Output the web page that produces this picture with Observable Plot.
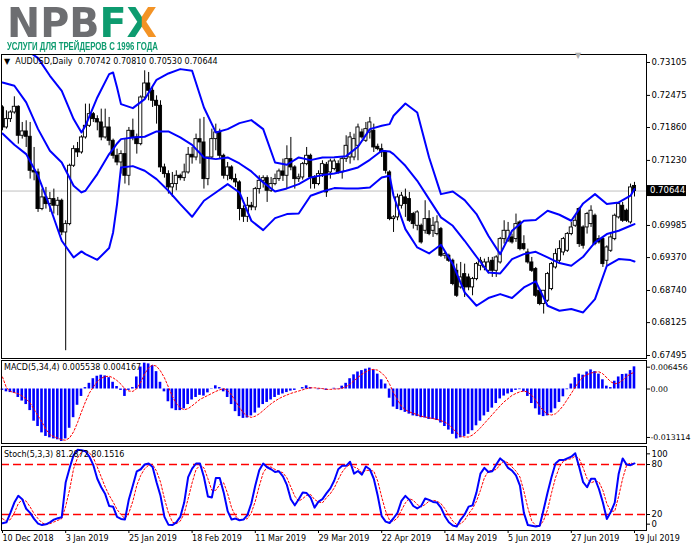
<!DOCTYPE html>
<html><head><meta charset="utf-8">
<script src="https://cdn.jsdelivr.net/npm/d3@7"></script>
<script src="https://cdn.jsdelivr.net/npm/@observablehq/plot@0.6"></script>
<style>
body{margin:0;background:#fff;}
#wrap{position:relative;width:691px;height:549px;overflow:hidden;background:#fff;font-family:"DejaVu Sans",sans-serif;color:#000;}
.pnl{position:absolute;left:0;}
.lbl{position:absolute;font-size:8px;white-space:pre;line-height:10px;}
#brand{position:absolute;left:7px;top:8px;font-family:"DejaVu Sans";font-weight:bold;font-size:41px;line-height:30px;height:30px;white-space:pre;transform-origin:0 0;}
#brand .g{color:#6d6e71;} #brand .f{color:#0d9b6f;}
#brand .x{background:linear-gradient(to right,#0d9b6f 50%,#f39325 50%);-webkit-background-clip:text;background-clip:text;color:transparent;}
#slogan{position:absolute;left:7px;top:42px;font-family:"Liberation Sans Narrow","Liberation Sans",sans-serif;font-weight:bold;font-size:11px;line-height:8px;height:8px;color:#0d9b6f;white-space:pre;transform-origin:0 0;}
</style></head><body>
<div id="wrap">
<div id="brand"><span class="g">NPB</span><span class="f">F</span><span class="x">X</span></div>
<div id="slogan">УСЛУГИ ДЛЯ ТРЕЙДЕРОВ С 1996 ГОДА</div>
</div>
<script>
// ---------- data ----------
const xTickBars = [0,16,32,48,64,80,96,112,128,144,160];
const xTickLabels = ["10 Dec 2018","3 Jan 2019","25 Jan 2019","18 Feb 2019","11 Mar 2019","29 Mar 2019","22 Apr 2019","14 May 2019","5 Jun 2019","27 Jun 2019","19 Jul 2019"];
const priceTicks = [0.73105,0.72475,0.71860,0.71230,0.69985,0.69370,0.68740,0.68125,0.67495];
const macdTicks = [0.006456,0,-0.013114];
const macdTickLabels = ["0.006456","0.00","-0.013114"];
const stochTicks = [100,80,20,0];
const stochLevels = [80,20];

const open = [0.72244,0.71861,0.72021,0.72148,0.72257,0.71702,0.71785,0.71683,0.71032,0.71000,
0.70299,0.70522,0.70394,0.70490,0.70362,0.70458,0.69851,0.70011,0.71128,0.71446,
0.71383,0.71670,0.71893,0.72116,0.72021,0.71957,0.71670,0.71861,0.71606,0.71319,
0.71191,0.71351,0.70936,0.71797,0.71670,0.71542,0.72435,0.72703,0.72563,0.72372,
0.72276,0.71096,0.70968,0.70713,0.70777,0.70936,0.70891,0.71000,0.71338,0.71287,
0.71638,0.71574,0.70872,0.71287,0.71638,0.71766,0.71319,0.70936,0.71096,0.70872,
0.70809,0.70299,0.70151,0.70362,0.70331,0.70681,0.70840,0.70891,0.70649,0.70777,
0.70872,0.71019,0.70936,0.71255,0.71096,0.70872,0.70904,0.71159,0.71319,0.70904,
0.70777,0.70968,0.71147,0.71000,0.71064,0.71159,0.71000,0.71255,0.71287,0.71287,
0.71510,0.71766,0.71606,0.71766,0.71797,0.71491,0.71446,0.71383,0.71000,0.70107,
0.70139,0.70362,0.70522,0.70490,0.70203,0.69979,0.69979,0.69883,0.70107,0.69883,
0.69820,0.69915,0.69405,0.69405,0.69309,0.69117,0.68799,0.69054,0.68990,0.68799,
0.68958,0.69213,0.69181,0.69117,0.69309,0.69117,0.69277,0.69724,0.69692,0.69756,
0.69724,0.70043,0.69628,0.69468,0.69277,0.69150,0.68735,0.68480,0.68544,0.68767,
0.69181,0.69309,0.69468,0.69500,0.69820,0.69979,0.70299,0.69947,0.69947,0.70011,
0.70171,0.69724,0.69724,0.69309,0.69500,0.69724,0.70139,0.70362,0.70267,0.70043,
0.70742];
const high = [0.72276,0.72180,0.72180,0.72448,0.72276,0.71957,0.71989,0.71957,0.71478,0.71064,
0.70681,0.70713,0.70617,0.70681,0.70522,0.70490,0.70075,0.71159,0.71510,0.71574,
0.71702,0.72308,0.72308,0.72148,0.72085,0.72212,0.72212,0.72053,0.71638,0.71446,
0.71415,0.71638,0.71861,0.72021,0.71734,0.72467,0.72946,0.72914,0.72627,0.72467,
0.72372,0.71159,0.71032,0.71000,0.71032,0.70968,0.71159,0.71478,0.71478,0.71734,
0.72021,0.72053,0.71287,0.71829,0.71925,0.71829,0.71351,0.71191,0.71128,0.70968,
0.70840,0.70362,0.70522,0.70426,0.70713,0.70936,0.70936,0.70936,0.70904,0.70968,
0.71064,0.71255,0.71510,0.71670,0.71128,0.70968,0.71191,0.71478,0.71351,0.70936,
0.71032,0.71223,0.71191,0.71255,0.71255,0.71223,0.71287,0.71702,0.71766,0.71734,
0.71925,0.71829,0.71957,0.72053,0.71925,0.71542,0.71542,0.71415,0.71032,0.70171,
0.70585,0.70617,0.70681,0.70617,0.70235,0.70267,0.70011,0.70458,0.70267,0.70139,
0.70171,0.69947,0.69468,0.69436,0.69341,0.69245,0.69277,0.69245,0.69054,0.68990,
0.69277,0.69373,0.69341,0.69373,0.69373,0.69405,0.69756,0.70075,0.70043,0.69820,
0.70203,0.70075,0.69788,0.69532,0.69373,0.69181,0.68767,0.68735,0.69086,0.69277,
0.69532,0.69692,0.69756,0.69851,0.70043,0.70171,0.70331,0.69979,0.70235,0.70362,
0.70203,0.69788,0.69756,0.69596,0.69851,0.70203,0.70426,0.70426,0.70299,0.70777,
0.70810];
const low = [0.71797,0.71829,0.71957,0.72116,0.71542,0.71638,0.71478,0.70872,0.70840,0.70235,
0.70267,0.70299,0.70235,0.70203,0.70171,0.69788,0.67587,0.69979,0.71096,0.71287,
0.71351,0.71638,0.71861,0.71957,0.71797,0.71606,0.71638,0.71510,0.71255,0.71128,
0.70968,0.70777,0.70745,0.71606,0.71351,0.71510,0.72403,0.72372,0.72244,0.71925,
0.71000,0.70891,0.70585,0.70522,0.70649,0.70840,0.70828,0.70968,0.71159,0.71223,
0.71159,0.70681,0.70745,0.71255,0.71415,0.71255,0.70872,0.70840,0.70840,0.70713,
0.70075,0.70043,0.70043,0.70267,0.70267,0.70585,0.70700,0.70426,0.70617,0.70745,
0.70828,0.70828,0.70681,0.71032,0.70681,0.70809,0.70853,0.71128,0.70681,0.70681,
0.70745,0.70904,0.70522,0.70872,0.71032,0.70968,0.70872,0.71191,0.71159,0.71223,
0.71223,0.71638,0.71574,0.71638,0.71383,0.71415,0.71287,0.70968,0.70075,0.69851,
0.70075,0.70299,0.70139,0.70043,0.69915,0.69883,0.69628,0.69820,0.69788,0.69756,
0.69788,0.69373,0.69341,0.69277,0.68831,0.68607,0.68767,0.68607,0.68735,0.68639,
0.68926,0.69117,0.69117,0.69054,0.68990,0.68990,0.69245,0.69628,0.69660,0.69628,
0.69660,0.69500,0.69500,0.69245,0.69086,0.68607,0.68448,0.68289,0.68512,0.68735,
0.69150,0.69277,0.69405,0.69468,0.69788,0.69947,0.69564,0.69532,0.69820,0.69947,
0.69596,0.69628,0.69181,0.69213,0.69468,0.69692,0.70107,0.70043,0.70043,0.70011,
0.70530];
const close = [0.71861,0.72021,0.72148,0.72257,0.71702,0.71785,0.71683,0.71032,0.71000,0.70299,
0.70522,0.70394,0.70490,0.70362,0.70458,0.69851,0.70011,0.71128,0.71446,0.71383,
0.71670,0.71893,0.72116,0.72021,0.71957,0.71670,0.71861,0.71606,0.71319,0.71191,
0.71351,0.70936,0.71797,0.71670,0.71542,0.72435,0.72703,0.72563,0.72372,0.72276,
0.71096,0.70968,0.70713,0.70777,0.70936,0.70891,0.71000,0.71338,0.71287,0.71638,
0.71574,0.70872,0.71287,0.71638,0.71766,0.71319,0.70936,0.71096,0.70872,0.70809,
0.70299,0.70151,0.70362,0.70331,0.70681,0.70840,0.70891,0.70649,0.70777,0.70872,
0.71019,0.70936,0.71255,0.71096,0.70872,0.70904,0.71159,0.71319,0.70904,0.70777,
0.70968,0.71159,0.70617,0.71210,0.71210,0.71000,0.71255,0.71510,0.71670,0.71638,
0.71861,0.71670,0.71829,0.71957,0.71478,0.71446,0.71383,0.71032,0.70107,0.70139,
0.70522,0.70554,0.70394,0.70075,0.70011,0.70235,0.69660,0.70107,0.69820,0.69979,
0.70043,0.69405,0.69436,0.69309,0.68863,0.68639,0.68990,0.68799,0.68799,0.68958,
0.69245,0.69309,0.69277,0.69277,0.69117,0.69373,0.69724,0.69883,0.69883,0.69660,
0.70011,0.69532,0.69532,0.69277,0.69117,0.68639,0.68480,0.68735,0.69054,0.69245,
0.69436,0.69532,0.69724,0.69820,0.69947,0.70075,0.69628,0.69596,0.70203,0.70267,
0.69628,0.69660,0.69245,0.69564,0.69756,0.70171,0.70394,0.70075,0.70075,0.70713,
0.70644];

const bandBar = [0,3,6,9,12,15,18,20,21,24,27,28,29,30,33,36,39,42,45,48,51,54,57,60,63,66,69,72,75,78,81,84,87,90,93,96,98,99,102,105,108,111,114,117,120,123,126,129,132,135,138,141,144,147,150,153,156,159,160];
const bandUpper = [0.73500,0.73450,0.73350,0.73188,0.72850,0.72563,0.72021,0.71766,0.71893,0.72435,0.72882,0.72914,0.72627,0.72308,0.72231,0.72403,0.72774,0.72895,0.72978,0.72946,0.72244,0.71766,0.71829,0.71944,0.72002,0.71829,0.71191,0.71147,0.71287,0.71236,0.71287,0.71293,0.71312,0.71491,0.71829,0.71893,0.71925,0.72085,0.72321,0.72148,0.71287,0.70585,0.70636,0.70470,0.70203,0.69788,0.69436,0.69883,0.70075,0.70088,0.70267,0.70190,0.70075,0.70407,0.70585,0.70394,0.70426,0.70554,0.70681];
const bandMid = [0.72722,0.72659,0.72340,0.71829,0.71415,0.71191,0.70745,0.70617,0.70649,0.70968,0.71351,0.71446,0.71555,0.71638,0.71670,0.71683,0.71785,0.71785,0.71670,0.71529,0.71287,0.71255,0.71287,0.71172,0.71019,0.70809,0.70636,0.70694,0.70777,0.70904,0.70949,0.70981,0.71032,0.71096,0.71242,0.71415,0.71402,0.71351,0.71128,0.70840,0.70490,0.70139,0.69979,0.69692,0.69386,0.69086,0.69067,0.69341,0.69436,0.69481,0.69373,0.69265,0.69213,0.69386,0.69660,0.69820,0.69883,0.69979,0.70011];
const bandLower = [0.71746,0.71530,0.71351,0.70936,0.70343,0.69692,0.69373,0.69488,0.69436,0.69328,0.69552,0.69851,0.70394,0.71096,0.71121,0.71032,0.70872,0.70649,0.70394,0.70151,0.70458,0.70617,0.70777,0.70617,0.70075,0.69896,0.70126,0.70203,0.70215,0.70554,0.70636,0.70700,0.70694,0.70694,0.70713,0.70904,0.70936,0.70554,0.69915,0.69564,0.69449,0.69615,0.69245,0.68703,0.68448,0.68595,0.68671,0.68595,0.68799,0.68914,0.68448,0.68352,0.68384,0.68320,0.68576,0.69213,0.69341,0.69322,0.69296];

const macdMain = [-0.00035,-0.00071,-0.00089,-0.00106,-0.00212,-0.00301,-0.00389,-0.00540,-0.00805,-0.00938,
-0.01097,-0.01186,-0.01221,-0.01248,-0.01270,-0.013114,-0.01248,-0.00982,-0.00717,-0.00407,
-0.00186,0.00035,0.00142,0.00257,0.00319,0.00345,0.00327,0.00283,0.00168,0.00062,
-0.00035,-0.00186,-0.00035,0.00035,0.00301,0.00549,0.006456,0.00628,0.00584,0.00434,
0.00168,-0.00071,-0.00319,-0.00496,-0.00540,-0.00540,-0.00496,-0.00389,-0.00274,-0.00212,
-0.00159,-0.00177,-0.00097,-0.00009,0.00080,0.00035,-0.00071,-0.00212,-0.00389,-0.00566,
-0.00690,-0.00735,-0.00726,-0.00673,-0.00602,-0.00478,-0.00389,-0.00336,-0.00274,-0.00212,
-0.00159,-0.00124,-0.00089,-0.00053,-0.00035,0.00000,0.00035,0.00080,0.00035,0.00000,
-0.00018,0.00009,-0.00035,0.00000,0.00018,0.00009,0.00071,0.00142,0.00257,0.00354,
0.00425,0.00460,0.00496,0.00522,0.00478,0.00372,0.00230,0.00124,-0.00230,-0.00451,
-0.00513,-0.00540,-0.00584,-0.00628,-0.00673,-0.00690,-0.00717,-0.00726,-0.00761,-0.00761,
-0.00788,-0.00850,-0.00938,-0.01027,-0.01133,-0.01248,-0.01221,-0.01186,-0.01133,-0.01044,
-0.00920,-0.00805,-0.00673,-0.00584,-0.00478,-0.00363,-0.00248,-0.00177,-0.00124,-0.00089,
-0.00035,-0.00018,-0.00071,-0.00186,-0.00363,-0.00496,-0.00655,-0.00690,-0.00673,-0.00602,
-0.00496,-0.00336,-0.00195,-0.00018,0.00124,0.00283,0.00372,0.00345,0.00425,0.00478,
0.00434,0.00372,0.00230,0.00071,0.00035,0.00195,0.00301,0.00363,0.00372,0.00460,
0.005538];
const macdSignal = [0.0030,0.0003,-0.0006,-0.0009,-0.0012,-0.0018,-0.0025,-0.0035,-0.0051,-0.0067,
-0.0083,-0.0101,-0.0114,-0.0119,-0.0123,-0.0127,-0.0128,-0.0122,-0.0107,-0.0084,
-0.0057,-0.0032,-0.0010,0.0005,0.0019,0.0027,0.0031,0.0032,0.0028,0.0021,
0.0012,0.0000,-0.0005,-0.0006,0.0001,0.0017,0.0038,0.0053,0.0060,0.0057,
0.0045,0.0028,0.0005,-0.0018,-0.0036,-0.0047,-0.0052,-0.0049,-0.0042,-0.0034,
-0.0026,-0.0021,-0.0016,-0.0011,-0.0006,-0.0002,0.0001,-0.0004,-0.0015,-0.0031,
-0.0046,-0.0060,-0.0068,-0.0071,-0.0068,-0.0062,-0.0054,-0.0045,-0.0037,-0.0030,
-0.0024,-0.0019,-0.0015,-0.0011,-0.0008,-0.0005,-0.0002,0.0001,0.0003,0.0003,
0.0002,0.0001,-0.0001,-0.0001,0.0000,0.0000,0.0002,0.0006,0.0012,0.0021,
0.0029,0.0037,0.0043,0.0048,0.0049,0.0047,0.0040,0.0030,0.0012,-0.0009,
-0.0027,-0.0043,-0.0052,-0.0057,-0.0061,-0.0064,-0.0068,-0.0070,-0.0072,-0.0074,
-0.0076,-0.0079,-0.0083,-0.0089,-0.0099,-0.0109,-0.0118,-0.0120,-0.0120,-0.0115,
-0.0107,-0.0097,-0.0086,-0.0075,-0.0064,-0.0053,-0.0042,-0.0032,-0.0024,-0.0016,
-0.0011,-0.0007,-0.0005,-0.0008,-0.0016,-0.0028,-0.0043,-0.0055,-0.0063,-0.0065,
-0.0062,-0.0053,-0.0041,-0.0026,-0.0011,0.0005,0.0019,0.0031,0.0036,0.0040,
0.0042,0.0043,0.0038,0.0028,0.0018,0.0013,0.0015,0.0022,0.0031,0.0038,
0.004167];

const stochMain = [9.4,10.6,22.0,34.3,42.4,38.4,26.9,22.0,14.7,9.0,
7.3,8.2,10.6,13.9,15.5,16.7,58.8,75.9,91.4,97.6,
97.1,95.9,89.4,79.2,62.9,52.7,44.5,30.2,29.4,17.1,
14.7,13.9,38.4,54.7,71.8,74.3,80.0,81.2,77.1,58.8,
42.4,17.1,7.8,7.3,10.6,17.1,34.3,64.9,75.1,81.2,
81.2,64.9,41.6,40.4,63.7,63.7,46.5,24.1,13.9,15.1,
13.1,13.9,19.2,33.5,54.7,73.1,81.2,76.7,74.3,71.0,
71.8,65.7,55.5,38.4,31.0,38.4,46.5,45.7,40.4,28.2,
35.5,38.4,45.3,51.4,60.8,74.3,78.4,78.4,83.3,69.0,
72.2,67.8,77.6,74.3,62.9,42.4,18.0,11.4,9.8,15.5,
22.0,36.3,42.4,37.6,30.2,27.3,30.2,39.2,37.6,35.1,
34.3,28.2,18.0,10.6,6.9,5.7,13.9,20.0,29.4,31.0,
46.5,69.0,75.9,71.0,71.8,80.0,87.3,83.3,75.9,72.7,
66.9,54.7,22.0,7.3,6.5,5.7,6.5,26.1,46.5,64.9,
81.2,85.3,85.3,87.3,89.4,93.5,77.1,58.8,52.7,62.9,
62.9,50.6,34.3,14.7,22.9,34.3,69.0,87.3,80.0,79.2,
81.2872];
const stochSignal = [15,12,14,22,33,38,36,29,21,15,
10,8,9,11,13,15,30,50,75,88,
95,97,94,88,77,65,53,43,35,26,
20,15,22,36,55,67,75,79,80,72,
59,39,22,11,9,12,21,39,58,74,
79,76,63,49,49,56,58,45,28,18,
14,14,15,22,36,54,70,77,77,74,
72,70,64,53,42,36,39,43,44,38,
35,34,40,45,52,62,71,77,80,77,
75,70,73,73,72,60,41,24,13,12,
16,25,34,39,37,32,29,32,36,37,
36,33,27,19,12,8,9,13,21,27,
36,49,64,72,73,74,80,84,82,77,
72,65,48,28,12,7,6,13,26,46,
64,77,84,86,87,90,87,76,63,58,
60,59,49,33,24,24,42,63,79,82,
80.1516];

// ---------- derived tables ----------
const candles = close.map((c, i) => ({i, open: open[i], high: high[i], low: low[i], close: c}));
const bands = bandBar.map((b, k) => ({bar: b, upper: bandUpper[k], mid: bandMid[k], lower: bandLower[k]}));
const macd = macdMain.map((v, i) => ({i, v, s: macdSignal[i]}));
const stoch = stochMain.map((v, i) => ({i, v, s: stochSignal[i]}));
const last = close[close.length - 1];

const W = 691;
const xDomain = [-0.2532, 163.04];
const baseStyle = {background: "transparent", fontFamily: "DejaVu Sans", fontSize: "8.5px", color: "#000", overflow: "visible"};
const common = {width: W, marginLeft: 1, marginRight: 45, x: {domain: xDomain, axis: null}, style: baseStyle};
const BLUE = "#0000ff";
const yAx = {anchor: "right", tickSize: 3, tickPadding: 2, label: null};
const wrap = document.getElementById("wrap");
function place(el, top) { el.classList.add("pnl"); el.style.top = top + "px"; wrap.appendChild(el); }

// ---------- main price panel ----------
const mainPlot = Plot.plot({
  ...common, height: 306, marginTop: 1, marginBottom: 1,
  y: {domain: [0.67438, 0.73258], axis: null},
  marks: [
    Plot.ruleY([last], {stroke: "#c0c0c0", strokeWidth: 1}),
    Plot.ruleX(candles, {x: "i", y1: "low", y2: "high", stroke: "#000", strokeWidth: 1, clip: true}),
    Plot.rect(candles, {x1: d => d.i - 0.4, x2: d => d.i + 0.4, y1: "open", y2: "close",
      fill: d => d.close >= d.open ? "#fff" : "#000", stroke: "#000", strokeWidth: 0.9, clip: true}),
    Plot.line(bands, {x: "bar", y: "upper", stroke: BLUE, strokeWidth: 2, clip: true}),
    Plot.line(bands, {x: "bar", y: "mid", stroke: BLUE, strokeWidth: 2, clip: true}),
    Plot.line(bands, {x: "bar", y: "lower", stroke: BLUE, strokeWidth: 2, clip: true}),
    Plot.axisY(priceTicks, {...yAx, tickFormat: d => d.toFixed(5)}),
    Plot.frame({stroke: "#000"})
  ]
});
place(mainPlot, 53);
{
  const yy = mainPlot.scale("y").apply(last);
  const sel = d3.select(mainPlot);
  sel.append("line").attr("x1", 646).attr("x2", 649).attr("y1", yy).attr("y2", yy).style("stroke", "#000");
  sel.append("rect").attr("x", 647).attr("y", yy - 5.5).attr("width", 39).attr("height", 11).style("fill", "#000");
  sel.append("text").attr("x", 650).attr("y", yy).attr("dy", "0.34em").attr("text-anchor", "start")
    .style("fill", "#ffffff").style("font-family", "DejaVu Sans").style("font-size", "8.5px").text(last.toFixed(5));
}

// ---------- MACD panel ----------
const mAx = {...yAx, tickPadding: 1, fontSize: "7.8px"};
const macdPlot = Plot.plot({
  ...common, height: 85, marginTop: 1, marginBottom: 1,
  y: {domain: [-0.013625, 0.007125], axis: null},
  marks: [
    Plot.rect(macd, {x1: d => d.i - 0.33, x2: d => d.i + 0.33, y1: 0, y2: "v", fill: BLUE}),
    Plot.line(macd, {x: "i", y: "s", stroke: "#ff0000", strokeWidth: 1, strokeDasharray: "2,2"}),
    Plot.axisY([macdTicks[0]], {...mAx, dy: 4, tickFormat: () => macdTickLabels[0]}),
    Plot.axisY([macdTicks[1]], {...mAx, tickFormat: () => macdTickLabels[1]}),
    Plot.axisY([macdTicks[2]], {...mAx, dy: -4, tickFormat: () => macdTickLabels[2]}),
    Plot.frame({stroke: "#000"})
  ]
});
place(macdPlot, 359);

// ---------- Stochastic panel ----------
const stochPlot = Plot.plot({
  ...common, height: 104, marginTop: 1, marginBottom: 19,
  y: {domain: [0.8, 101.6], axis: null},
  marks: [
    Plot.ruleY(stochLevels, {stroke: "#ff0000", strokeWidth: 1.3, strokeDasharray: "8,4"}),
    Plot.line(stoch, {x: "i", y: "s", stroke: "#ff0000", strokeWidth: 1, strokeDasharray: "2,2"}),
    Plot.line(stoch, {x: "i", y: "v", stroke: BLUE, strokeWidth: 2}),
    Plot.axisY([stochTicks[0]], {...yAx, dy: 6, tickFormat: d => String(d)}),
    Plot.axisY(stochTicks.slice(1, 3), {...yAx, tickFormat: d => String(d)}),
    Plot.axisY([stochTicks[3]], {...yAx, dy: -7, tickFormat: d => String(d)}),
    Plot.axisX(xTickBars, {anchor: "bottom", tickSize: 3, tickPadding: 2, textAnchor: "start", fontSize: "8px", label: null,
      tickFormat: d => xTickLabels[xTickBars.indexOf(d)]}),
    Plot.frame({stroke: "#000"})
  ]
});
place(stochPlot, 445);

// ---------- panel titles ----------
function label(txt, left, top, color) {
  const d = document.createElement("div");
  d.className = "lbl"; d.textContent = txt; d.style.left = left + "px"; d.style.top = top + "px";
  if (color) d.style.color = color;
  wrap.appendChild(d);
}
label("\u25BC  AUDUSD,Daily  " + [open[160], high[160], low[160], close[160]].map(v => v.toFixed(5)).join(" "), 4, 57);
label("\u25BC", 575, 51, "#b0b0b0");
label("MACD(5,34,4) " + macdMain[160].toFixed(6) + " " + macdSignal[160].toFixed(6), 4, 363);
label("Stoch(5,3,3) " + stochMain[160].toFixed(4) + " " + stochSignal[160].toFixed(4), 4, 450);

// fit the logo texts to the widths seen in the picture
for (const [id, w] of [["brand", 150], ["slogan", 151]]) {
  const el = document.getElementById(id);
  const r = el.getBoundingClientRect();
  if (r.width > 0) el.style.transform = `scaleX(${w / r.width})`;
}
</script>
</body></html>
